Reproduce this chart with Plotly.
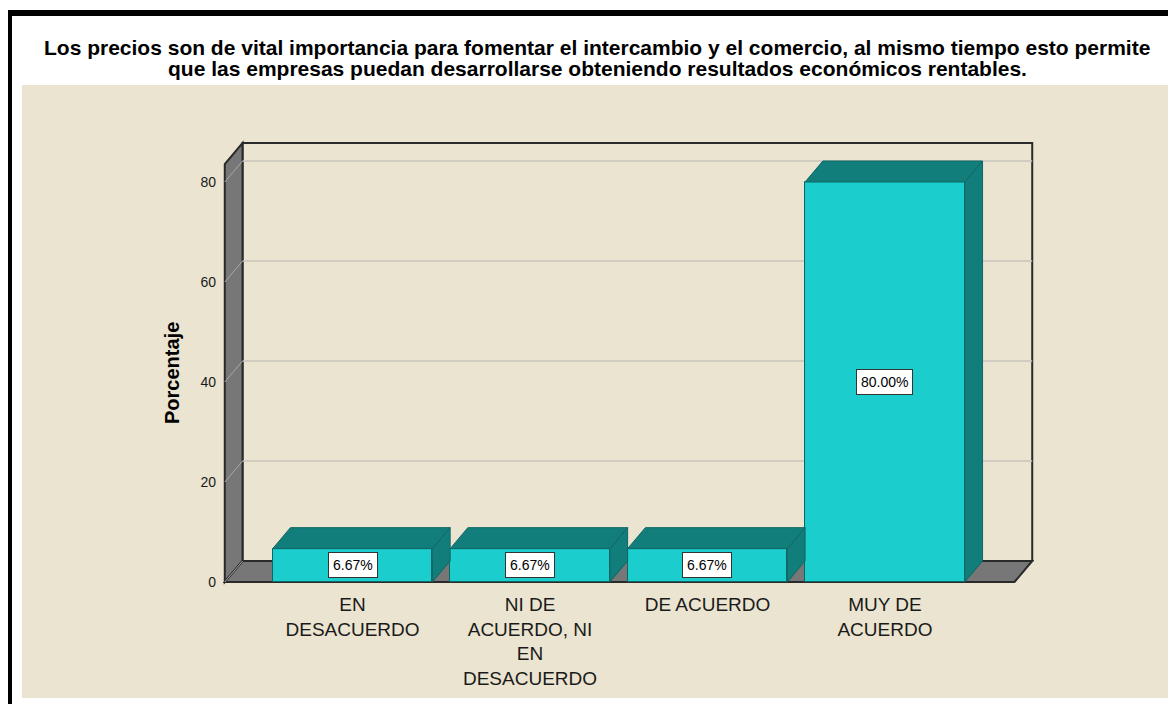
import plotly.graph_objects as go

# ---------------- data ----------------
categories = ["EN<br>DESACUERDO",
              "NI DE<br>ACUERDO, NI<br>EN<br>DESACUERDO",
              "DE ACUERDO",
              "MUY DE<br>ACUERDO"]
percentages = [6.67, 6.67, 6.67, 80.00]
y_ticks = [0, 20, 40, 60, 80]
title_lines = [
    "Los precios son de vital importancia para fomentar el intercambio y el comercio, al mismo tiempo esto permite",
    "que las empresas puedan desarrollarse obteniendo resultados económicos rentables.",
]
y_title = "Porcentaje"

# ---------------- style / geometry ----------------
W, H = 1176, 704
OFF = 8                     # page body margin (figure origin on the page)
ML, MT = 215, 131
PW, PH = 811, 446
MR, MB = W - ML - PW, H - MT - PH
XR = [-0.73, 3.84]
YR = [-0.6, 88.6]

BAR_W = 0.9
DX, DY = 0.1, 4.2          # depth offset of the 3-D effect (data units)
X0, X1 = -0.72, 3.73       # front-left / front-right of the floor
YTOP = 83.6                # top of the walls (front)

FRONT = "#1CCDCD"
SHADE = "#127E7B"
EDGE = "#0E6664"
WALL = "#777777"
WALL_EDGE = "#2A2A2A"
GRID = "#C9C5BD"
PANEL = "#EAE4D0"
TEXT = "#1A1A1A"
FONT = "Liberation Sans, Arial, sans-serif"


def pxx(px):
    """page pixel x -> paper coordinate"""
    return (px - OFF - ML) / PW


def pxy(py):
    """page pixel y -> paper coordinate"""
    return (MT + PH - (py - OFF)) / PH


positions = list(range(len(categories)))

fig = go.Figure()

# front faces of the bars
fig.add_trace(go.Bar(
    x=positions, y=percentages, width=BAR_W,
    marker=dict(color=FRONT, line=dict(color=EDGE, width=1)),
    hoverinfo="skip", showlegend=False,
))

# top and side faces computed from the values
for c, v in zip(positions, percentages):
    l, r = c - BAR_W / 2, c + BAR_W / 2
    top_x = [l, r, r + DX, l + DX, l]
    top_y = [v, v, v + DY, v + DY, v]
    side_x = [r, r + DX, r + DX, r, r]
    side_y = [0, DY, v + DY, v, 0]
    for xs, ys in ((side_x, side_y), (top_x, top_y)):
        fig.add_trace(go.Scatter(
            x=xs, y=ys, mode="lines", fill="toself",
            fillcolor=SHADE, line=dict(color=EDGE, width=1),
            hoverinfo="skip", showlegend=False,
        ))

shapes = []
# outer panel + black frame
shapes.append(dict(type="rect", xref="paper", yref="paper",
                   x0=pxx(22), x1=pxx(1171), y0=pxy(698), y1=pxy(85),
                   fillcolor=PANEL, line=dict(width=0), layer="below"))
shapes.append(dict(type="rect", xref="paper", yref="paper",
                   x0=pxx(6), x1=pxx(W + 20), y0=pxy(16), y1=pxy(10),
                   fillcolor="black", line=dict(width=0), layer="below"))
shapes.append(dict(type="rect", xref="paper", yref="paper",
                   x0=pxx(6), x1=pxx(12), y0=pxy(H + 20), y1=pxy(10),
                   fillcolor="black", line=dict(width=0), layer="below"))

# back wall
shapes.append(dict(type="rect", xref="x", yref="y",
                   x0=X0 + DX, x1=X1 + DX, y0=DY, y1=YTOP + DY,
                   fillcolor=PANEL, line=dict(color=WALL_EDGE, width=2), layer="below"))
# left wall
shapes.append(dict(type="path", xref="x", yref="y",
                   path=f"M {X0},0 L {X0 + DX},{DY} L {X0 + DX},{YTOP + DY} L {X0},{YTOP} Z",
                   fillcolor=WALL, line=dict(color=WALL_EDGE, width=2), layer="below"))
# floor
shapes.append(dict(type="path", xref="x", yref="y",
                   path=f"M {X0},0 L {X1},0 L {X1 + DX},{DY} L {X0 + DX},{DY} Z",
                   fillcolor=WALL, line=dict(color=WALL_EDGE, width=2), layer="below"))
# grid lines (back wall + diagonal on left wall)
for g in y_ticks:
    if g > 0:
        shapes.append(dict(type="line", xref="x", yref="y",
                           x0=X0 + DX, x1=X1 + DX, y0=g + DY, y1=g + DY,
                           line=dict(color=GRID, width=1.5), layer="below"))
    shapes.append(dict(type="line", xref="x", yref="y",
                       x0=X0, x1=X0 + DX, y0=g, y1=g + DY,
                       line=dict(color="#A8A8A8", width=1), layer="below"))

annotations = []
# value labels
for c, v in zip(positions, percentages):
    annotations.append(dict(
        x=c, y=v / 2, xref="x", yref="y", text=f"{v:.2f}%", showarrow=False,
        font=dict(family=FONT, size=14, color="black"),
        bgcolor="white", bordercolor="#333333", borderwidth=1, borderpad=4,
    ))
# title lines
for line, py in zip(title_lines, (47, 68)):
    annotations.append(dict(
        x=pxx(597), y=pxy(py), xref="paper", yref="paper", text=line,
        showarrow=False, xanchor="center", yanchor="middle",
        font=dict(family=FONT, size=21, color="black", weight="bold"),
    ))
# y axis title
annotations.append(dict(
    x=pxx(172), y=pxy(373), xref="paper", yref="paper", text=y_title,
    showarrow=False, textangle=-90, xanchor="center", yanchor="middle",
    font=dict(family=FONT, size=20, color="black", weight="bold"),
))

fig.update_layout(
    width=W, height=H,
    margin=dict(l=ML, r=MR, t=MT, b=MB, autoexpand=False),
    paper_bgcolor="white", plot_bgcolor="rgba(0,0,0,0)",
    shapes=shapes, annotations=annotations,
    showlegend=False, bargap=0,
    xaxis=dict(range=XR, tickvals=positions, ticktext=categories,
               showgrid=False, zeroline=False, showline=False, ticks="",
               ticklabelstandoff=6,
               tickfont=dict(family=FONT, size=19, color=TEXT)),
    yaxis=dict(range=YR, tickvals=y_ticks, showgrid=False, zeroline=False,
               showline=False, ticks="", ticklabelstandoff=6,
               tickfont=dict(family=FONT, size=14, color=TEXT)),
)

fig.write_html("out.html")
